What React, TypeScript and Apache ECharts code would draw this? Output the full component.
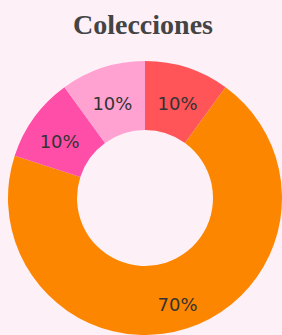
import React, { useEffect, useRef } from "react";
import * as echarts from "echarts";

const categories = ["Colección A", "Colección B", "Colección C", "Colección D"];
const values = [10, 70, 10, 10];
const colors = ["#ff5458", "#fd8600", "#ff4ea8", "#ffa2d1"];
const titleText = "Colecciones";

export default function App() {
  const ref = useRef<HTMLDivElement>(null);
  useEffect(() => {
    document.body.style.margin = "0";
    document.body.style.background = "#fdf0f7";
    const chart = echarts.init(ref.current!, null, { renderer: "svg" });
    chart.setOption({
      animation: false,
      backgroundColor: "#fdf0f7",
      title: {
        text: titleText,
        left: 68,
        top: 5,
        textStyle: {
          fontFamily: "Liberation Serif",
          fontWeight: "bold",
          fontSize: 28,
          color: "#444444",
        },
      },
      series: [
        {
          type: "pie",
          center: [145, 198],
          radius: [68, 137],
          startAngle: 90,
          clockwise: true,
          avoidLabelOverlap: false,
          label: {
            show: true,
            position: "inside",
            formatter: "{c}%",
            fontFamily: "DejaVu Sans",
            fontSize: 18,
            color: "#333333",
          },
          labelLayout: { dy: 6 },
          labelLine: { show: false },
          emphasis: { disabled: true },
          data: categories.map((name, i) => ({
            name,
            value: values[i],
            itemStyle: { color: colors[i] },
          })),
        },
      ],
    });
    return () => chart.dispose();
  }, []);
  return (
    <div
      ref={ref}
      style={{ position: "absolute", left: 0, top: 0, width: 282, height: 335 }}
    />
  );
}
